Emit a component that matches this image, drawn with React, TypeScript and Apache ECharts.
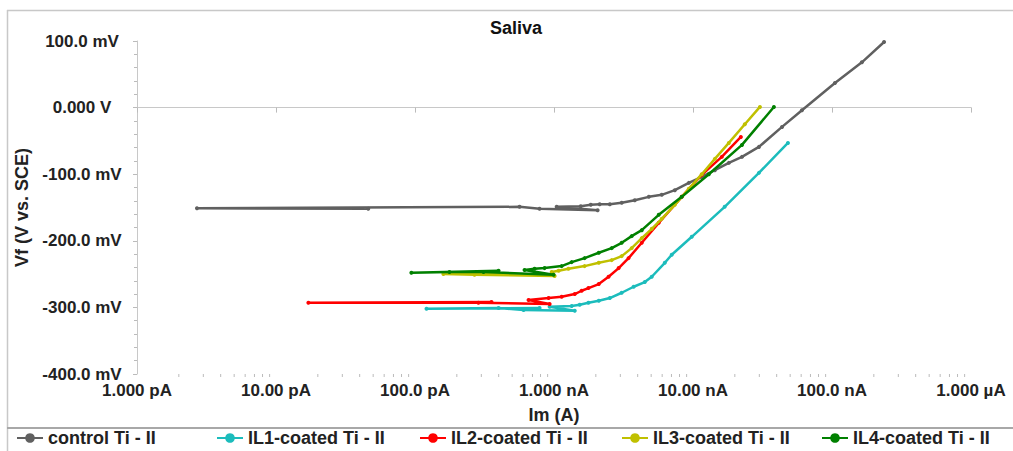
import React, { useEffect, useRef } from "react";
import * as echarts from "echarts";

// Series data: [current (A), potential (mV)]
const controlData: [number, number][] = [
  [4.61e-11, -152], [2.7e-12, -151], [5.65e-10, -149], [7.87e-10, -152], [2.06e-9, -154],
  [1.045e-9, -149], [1.556e-9, -148], [1.84e-9, -146], [2.13e-9, -145], [2.52e-9, -145],
  [3.07e-9, -143], [3.81e-9, -139], [4.81e-9, -134], [5.96e-9, -131], [7.4e-9, -124],
  [9.33e-9, -113], [1.156e-8, -104], [1.436e-8, -94], [1.81e-8, -83], [2.25e-8, -74],
  [2.98e-8, -59], [4.37e-8, -29], [6.08e-8, -4], [1.05e-7, 37],
  [1.64e-7, 68], [2.37e-7, 98.5],
];
const il1Data: [number, number][] = [
  [7.87e-10, -301], [1.21e-10, -302], [3.99e-10, -301], [6.04e-10, -304], [1.41e-9, -305],
  [9.3e-10, -299], [1.34e-9, -298], [1.53e-9, -296], [1.77e-9, -293], [2.1e-9, -290], [2.52e-9, -286],
  [3.07e-9, -278], [3.74e-9, -269], [4.5e-9, -262], [5.05e-9, -254], [6.27e-9, -233],
  [7.03e-9, -221], [9.8e-9, -194], [1.69e-8, -149], [2.98e-8, -98], [4.82e-8, -53],
];
const il2Data: [number, number][] = [
  [3.55e-10, -292], [1.71e-11, -293], [2.86e-10, -293], [9.3e-10, -295], [6.56e-10, -289],
  [9.14e-10, -286], [1.135e-9, -284], [1.41e-9, -280], [1.58e-9, -275], [1.77e-9, -271],
  [2.1e-9, -265], [2.47e-9, -254], [2.92e-9, -241], [3.44e-9, -226], [4.28e-9, -203],
  [5.67e-9, -173], [8.3e-9, -134], [1.156e-8, -101], [1.61e-8, -74], [2.21e-8, -44],
];
const il3Data: [number, number][] = [
  [4.56e-10, -250], [1.6e-10, -250], [2.68e-10, -251], [1.01e-9, -253], [9.62e-10, -247],
  [1.08e-9, -245], [1.27e-9, -242], [1.66e-9, -238], [2.1e-9, -233], [2.6e-9, -229],
  [3.07e-9, -223], [3.62e-9, -211], [4.28e-9, -196], [5.05e-9, -182], [5.96e-9, -167],
  [7.4e-9, -146], [9.33e-9, -122], [1.156e-8, -100], [1.436e-8, -77], [1.81e-8, -53],
  [2.36e-8, -25], [3.03e-8, 1],
];
const il4Data: [number, number][] = [
  [3.99e-10, -245], [9.42e-11, -248], [1.77e-10, -247], [3.11e-10, -247], [9.93e-10, -251],
  [6.14e-10, -244], [7.25e-10, -242], [8.55e-10, -241], [1.135e-9, -238], [1.34e-9, -232],
  [1.66e-9, -226], [2.1e-9, -218], [2.6e-9, -211], [3.07e-9, -203], [3.62e-9, -193],
  [4.28e-9, -184], [5.67e-9, -161], [8.3e-9, -134], [1.3e-8, -100], [2.25e-8, -56],
  [3.82e-8, 1],
];

const seriesNames = [
  "control Ti - II",
  "IL1-coated Ti - II",
  "IL2-coated Ti - II",
  "IL3-coated Ti - II",
  "IL4-coated Ti - II",
];
const seriesColors = ["#606060", "#1cbcbc", "#ff0000", "#c0c000", "#008000"];
const seriesData = [controlData, il1Data, il2Data, il3Data, il4Data];

const xTickLabels = ["1.000 pA", "10.00 pA", "100.0 pA", "1.000 nA", "10.00 nA", "100.0 nA", "1.000 µA"];
const yTickLabels = ["-400.0 mV", "-300.0 mV", "-200.0 mV", "-100.0 mV", "0.000 V", "100.0 mV"];
const decades = [1e-12, 1e-11, 1e-10, 1e-9, 1e-8, 1e-7];
const minorMultipliers = [2, 3, 4, 5, 6, 7, 8, 9];

const FONT = "'Liberation Sans', Arial, sans-serif";
const W = 1013;
const H = 451;

export default function App() {
  const ref = useRef<HTMLDivElement>(null);
  useEffect(() => {
    document.body.style.margin = "0";
    document.body.style.overflow = "hidden";
    if (!ref.current) return;
    const chart = echarts.init(ref.current, undefined, { renderer: "svg", width: W, height: H });

    const minorTicks: [number, number][] = [];
    decades.forEach((d) => minorMultipliers.forEach((m) => minorTicks.push([d * m, -400])));

    const legendTextLeft = [47, 247, 450, 652, 852];

    const option: any = {
      animation: false,
      backgroundColor: "#ffffff",
      title: {
        text: "Saliva",
        left: 485,
        top: 14,
        textStyle: { fontFamily: FONT, fontSize: 18, fontWeight: "bold", color: "#111" },
      },
      legend: seriesNames.map((n, i) => ({
        data: [n],
        left: legendTextLeft[i] - 31,
        top: 429,
        padding: 0,
        itemWidth: 26,
        itemHeight: 12,
        textStyle: { fontFamily: FONT, fontSize: 18, fontWeight: "bold", color: "#222" },
      })),
      grid: { left: 137, right: 42, top: 41, bottom: 77 },
      xAxis: {
        type: "log",
        logBase: 10,
        min: 1e-12,
        max: 1e-6,
        splitNumber: 6,
        name: "Im (A)",
        nameLocation: "middle",
        nameGap: 32,
        nameTextStyle: { fontFamily: FONT, fontSize: 18, fontWeight: "bold", color: "#222" },
        axisLine: { show: true, lineStyle: { color: "#c8c8c8", width: 1 } },
        axisTick: { show: true, length: 5, lineStyle: { color: "#bbbbbb" } },
        minorTick: { show: false },
        splitLine: { show: false },
        axisLabel: {
          fontFamily: FONT,
          fontSize: 17,
          fontWeight: "bold",
          color: "#222",
          margin: 8,
          showMinLabel: true,
          showMaxLabel: true,
          formatter: (v: number) => xTickLabels[Math.round(Math.log10(v)) + 12] ?? "",
        },
      },
      yAxis: {
        type: "value",
        min: -400,
        max: 100,
        interval: 100,
        name: "Vf (V vs. SCE)",
        nameLocation: "middle",
        nameGap: 106,
        nameTextStyle: { fontFamily: FONT, fontSize: 18, fontWeight: "bold", color: "#222" },
        axisLine: { show: true, lineStyle: { color: "#c8c8c8", width: 1 } },
        axisTick: { show: true, length: 4, lineStyle: { color: "#bbbbbb" } },
        minorTick: { show: true, splitNumber: 5, length: 3, lineStyle: { color: "#bbbbbb" } },
        splitLine: { show: false },
        axisLabel: {
          fontFamily: FONT,
          fontSize: 17,
          fontWeight: "bold",
          color: "#222",
          align: "center",
          margin: 55,
          formatter: (v: number) => yTickLabels[Math.round((v + 400) / 100)] ?? "",
        },
      },
      graphic: [
        { type: "line", shape: { x1: 7, y1: 10.5, x2: W, y2: 10.5 }, style: { stroke: "#c8c8c8", lineWidth: 1.5 } },
        { type: "line", shape: { x1: 7.5, y1: 10, x2: 7.5, y2: H }, style: { stroke: "#c8c8c8", lineWidth: 1.5 } },
        { type: "line", shape: { x1: 7, y1: 428, x2: W, y2: 428 }, style: { stroke: "#a8a8a8", lineWidth: 2 } },
      ],
      series: [
        {
          type: "custom",
          name: "minorTicks",
          silent: true,
          clip: false,
          data: minorTicks,
          encode: { x: 0, y: 1 },
          renderItem: (params: any, api: any) => {
            const p = api.coord([api.value(0), api.value(1)]);
            return {
              type: "line",
              shape: { x1: p[0], y1: p[1], x2: p[0], y2: p[1] + 3 },
              style: { stroke: "#bbbbbb", lineWidth: 1 },
            };
          },
        },
        ...seriesNames.map((n, i) => ({
          type: "line",
          name: n,
          data: seriesData[i],
          color: seriesColors[i],
          symbol: "circle",
          symbolSize: 4,
          showSymbol: true,
          lineStyle: { width: 2.5, color: seriesColors[i] },
          itemStyle: { color: seriesColors[i] },
          z: 3 + i,
        })),
      ],
    };
    chart.setOption(option);
    return () => chart.dispose();
  }, []);
  return <div ref={ref} style={{ width: W, height: H }} />;
}
